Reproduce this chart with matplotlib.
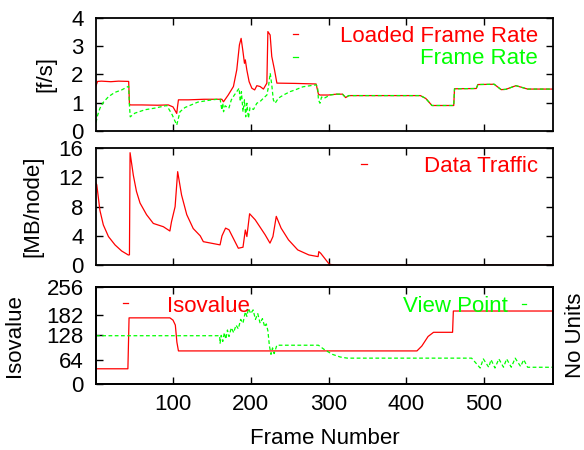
import numpy as np
import matplotlib
matplotlib.use("Agg")
import matplotlib.pyplot as plt

plt.rcParams['font.family'] = ['Liberation Sans', 'DejaVu Sans']
plt.rcParams['font.size'] = 16

# --- data ---

# top panel: frame rates [f/s]
loaded_frames = [1, 3, 8, 20, 30, 43, 44, 45, 60, 80, 94, 100, 104.8, 106, 107, 120,
                 140, 162.8, 164.9, 171, 177.7, 182, 185.4, 187.6, 189.7, 191.9, 193,
                 194.9, 197.9, 201.4, 205, 207.8, 212, 216.3, 220.7, 222, 224.9, 227,
                 230.5, 233.6, 257, 284, 287, 289, 300, 310, 318, 322, 326, 418, 425,
                 433, 461, 462, 490, 492, 513, 522, 528, 541, 556, 589]
loaded_rate = [1.6, 1.75, 1.76, 1.74, 1.76, 1.75, 0.95, 0.92, 0.92, 0.91, 0.92, 0.85,
               0.62, 0.9, 1.1, 1.1, 1.12, 1.12, 1.03, 1.27, 1.57, 2.16, 3.04, 3.27,
               2.86, 2.39, 2.51, 2.16, 1.74, 1.51, 1.45, 1.6, 1.57, 1.48, 1.69, 3.51,
               3.39, 2.63, 2.16, 1.69, 1.68, 1.66, 1.3, 1.27, 1.27, 1.3, 1.3, 1.18,
               1.25, 1.25, 1.15, 0.9, 0.9, 1.49, 1.5, 1.64, 1.65, 1.46, 1.47, 1.6,
               1.48, 1.48]

rate_frames = [1, 3, 6, 10, 17, 25, 34, 43, 44, 45, 51, 64, 77, 92, 99, 104.8, 109,
               115.5, 132, 150, 160.6, 162.8, 164, 165, 167, 171.8, 175, 178.9, 182,
               185, 186.5, 188, 190, 191.9, 193.5, 195, 197, 199, 203.5, 207.8, 212,
               216.3, 220.7, 222.8, 225, 227, 229, 231.3, 235.6, 242, 250.6, 257, 267,
               284, 286, 287, 289, 291, 294, 302, 310, 318, 322, 326, 418, 425, 433,
               461, 462, 490, 492, 513, 522, 528, 541, 556, 589]
frame_rate = [0.3, 0.55, 0.8, 1.0, 1.21, 1.36, 1.45, 1.58, 0.9, 0.5, 0.63, 0.75, 0.81,
              0.9, 0.57, 0.21, 0.68, 0.83, 1.02, 1.1, 1.13, 0.74, 0.98, 0.68, 0.89,
              0.8, 1.1, 1.27, 1.39, 1.51, 1.04, 1.39, 0.68, 1.1, 0.5, 0.98, 0.45,
              0.83, 0.76, 0.98, 1.04, 1.16, 1.27, 1.57, 2.04, 1.63, 1.1, 0.98, 1.16,
              1.27, 1.39, 1.45, 1.56, 1.63, 1.55, 1.1, 0.98, 1.2, 1.15, 1.27, 1.3,
              1.3, 1.18, 1.25, 1.25, 1.15, 0.9, 0.9, 1.49, 1.5, 1.64, 1.65, 1.46,
              1.47, 1.6, 1.48, 1.48]

# middle panel: data traffic [MB/node]
traffic_frames = [1, 2, 6, 10.4, 17, 25.5, 34, 42.6, 44, 44.8, 49, 53, 57.6, 66, 74.7,
                  87.6, 96, 98, 102.7, 106, 111, 117.7, 126, 135, 139, 160.5, 163,
                  167.6, 172, 184, 190, 193, 195, 198.5, 205.7, 212.8, 218.5, 224.7,
                  228.5, 232.8, 239, 248.5, 260.4, 274.7, 286.6, 287.5, 290, 301, 308,
                  589]
traffic = [11.2, 11.0, 7.5, 5.5, 3.9, 2.75, 1.92, 1.37, 1.4, 15.4, 12.3, 10.1, 8.5,
           6.9, 5.7, 5.25, 4.66, 5.9, 8.0, 12.8, 9.6, 6.9, 5.0, 4.0, 3.2, 2.76, 4.0,
           5.06, 4.83, 2.3, 2.44, 4.8, 3.9, 7.03, 6.2, 5.06, 4.14, 3.0, 3.9, 6.67,
           5.06, 3.45, 2.07, 1.38, 1.15, 1.84, 1.6, 0.1, 0.0, 0.0]

# bottom panel: isovalue and view point
iso_frames = [1, 42, 43.5, 96, 100, 103, 105, 107, 413.7, 420, 428, 435, 459.5,
              460.5, 589]
isovalue = [40, 40, 174, 174, 168, 155, 110, 87, 87, 100, 125, 136, 136, 192, 192]

view_frames = [1, 160, 160.5, 162, 164, 166, 168, 170, 172, 175, 178, 181, 184, 187,
               190, 193, 195, 197, 200, 203, 206, 209, 212, 215, 218, 220, 222, 224,
               226, 228, 230, 232, 233.5, 287, 295, 305, 315, 324, 484, 495, 499, 506,
               509, 514, 519, 525, 529, 535, 540, 547, 551, 556, 589]
view_point = [127, 127, 107, 128, 112, 135, 118, 142, 125, 148, 135, 155, 145, 170,
              160, 190, 178, 199, 185, 195, 170, 185, 160, 172, 150, 158, 140, 100,
              78, 95, 80, 92, 102, 102, 90, 78, 71, 68, 68, 42, 66, 44, 64, 42, 66,
              44, 66, 44, 68, 46, 64, 44, 44]

x_ticks = [100, 200, 300, 400, 500]
RED = '#ff0000'
GREEN = '#00ff00'
DASH = (0, (3, 2))

fig = plt.figure(figsize=(5.84, 4.5), dpi=100)
ax1 = fig.add_axes([0.1644, 0.7089, 0.783, 0.2518])
ax2 = fig.add_axes([0.1644, 0.4111, 0.783, 0.2593])
ax3 = fig.add_axes([0.1644, 0.1467, 0.783, 0.2162])


def style(ax, yticks, ylim, show_x):
    ax.set_xlim(1, 589)
    ax.set_ylim(*ylim)
    ax.set_xticks(x_ticks)
    ax.set_yticks(yticks)
    ax.tick_params(direction='in', length=5, width=1, top=True, right=True,
                   labelsize=16, pad=7)
    ax.tick_params(axis='y', pad=9)
    if not show_x:
        ax.set_xticklabels([])
    for sp in ax.spines.values():
        sp.set_linewidth(1.3)


# top
ax1.plot(loaded_frames, loaded_rate, color=RED, lw=0.9)
ax1.plot(rate_frames, frame_rate, color=GREEN, lw=0.9, linestyle=DASH)
style(ax1, [0, 1, 2, 3, 4], (0, 4), False)
ax1.set_ylabel('[f/s]')
ax1.yaxis.set_label_coords(-0.0875, 0.5)
ax1.plot([0.431, 0.441], [0.856, 0.856], color=RED, lw=0.9, transform=ax1.transAxes)
ax1.plot([0.431, 0.441], [0.656, 0.656], color=GREEN, lw=0.9, transform=ax1.transAxes)
ax1.text(0.967, 0.788, 'Loaded Frame Rate', color=RED, ha='right', va='baseline',
         transform=ax1.transAxes)
ax1.text(0.967, 0.589, 'Frame Rate', color=GREEN, ha='right', va='baseline',
         transform=ax1.transAxes)

# middle
ax2.plot(traffic_frames, traffic, color=RED, lw=0.9)
style(ax2, [0, 4, 8, 12, 16], (0, 16), False)
ax2.set_ylabel('[MB/node]')
ax2.yaxis.set_label_coords(-0.116, 0.5)
ax2.plot([0.58, 0.592], [0.863, 0.863], color=RED, lw=0.9, transform=ax2.transAxes)
ax2.text(0.967, 0.794, 'Data Traffic', color=RED, ha='right', va='baseline',
         transform=ax2.transAxes)

# bottom
ax3.plot(iso_frames, isovalue, color=RED, lw=0.9)
ax3.plot(view_frames, view_point, color=GREEN, lw=0.9, linestyle=DASH)
style(ax3, [0, 64, 128, 182, 256], (0, 256), True)
ax3.set_ylabel('Isovalue')
ax3.yaxis.set_label_coords(-0.155, 0.5)
ax3.set_xlabel('Frame Number')
ax3.xaxis.set_label_coords(0.5, -0.45)
ax3.plot([0.059, 0.070], [0.829, 0.829], color=RED, lw=0.9, transform=ax3.transAxes)
ax3.text(0.155, 0.743, 'Isovalue', color=RED, ha='left', va='baseline',
         transform=ax3.transAxes)
ax3.plot([0.931, 0.940], [0.822, 0.822], color=GREEN, lw=0.9, transform=ax3.transAxes)
ax3.text(0.90, 0.743, 'View Point', color=GREEN, ha='right', va='baseline',
         transform=ax3.transAxes)

ax3r = ax3.twinx()
ax3r.set_ylim(0, 256)
ax3r.set_yticks([])
ax3r.set_ylabel('No Units')
ax3r.yaxis.set_label_coords(1.0256, 0.5)
for sp in ax3r.spines.values():
    sp.set_linewidth(1.3)

fig.savefig('out.png', dpi=100)
